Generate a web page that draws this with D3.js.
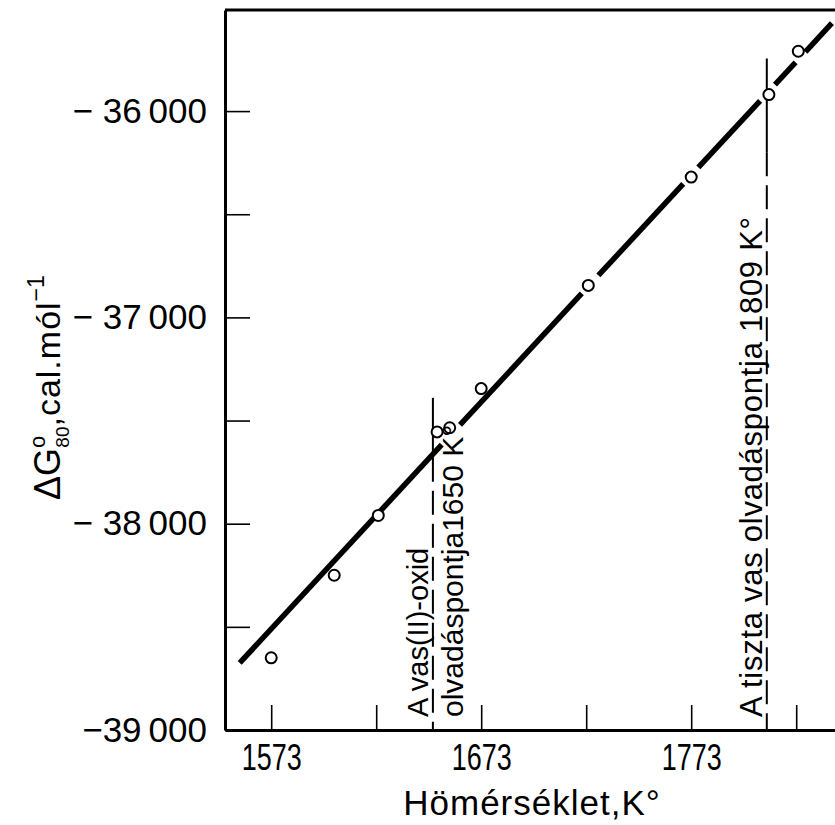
<!DOCTYPE html>
<html>
<head>
<meta charset="utf-8">
<script src="https://cdn.jsdelivr.net/npm/d3@7"></script>
<style>
  body { margin: 0; background: #fff; }
  svg { display: block; font-family: 'Liberation Sans', Arial, sans-serif; }
</style>
</head>
<body>
<div id="viz"></div>
<script>
// measured points, temperature (K) and free energy (cal/mol)
const temps = [1573, 1603, 1624, 1652, 1658, 1673, 1724, 1773, 1810, 1824]
const dG = [-38650, -38250, -37960, -37555, -37535, -37345, -36845, -36320, -35920, -35710]

// fitted straight line, ends and the breaks where it stops near a point
const fitT = [1558, 1840]
const fitG = [-38675, -35574]
const gapStart = [1654.2, 1720.9, 1769.2, 1805.8, 1822.7]
const gapEnd = [1662.9, 1728.8, 1776.4, 1812.9, 1827.4]

// ticks
const xTicks = [1573, 1623, 1673, 1723, 1773, 1823]
const xTickLabels = ['1573', '', '1673', '', '1773', '']
const yTicks = [-39000, -38500, -38000, -37500, -37000, -36500, -36000]
const yTickLabels = ['\u221239\u2009000', '', '\u2212 38\u2009000', '', '\u2212 37\u2009000', '', '\u2212 36\u2009000']

// melting points
const meltT = [1650, 1809]
const meltSolidTop = [-37390, -35745]
const meltSolidBottom = [-37680, -36200]

var margin = { top: 10, left: 225 },
  width = (1846 - 1551) * 2.1,
  height = 720

var svg = d3
  .select('#viz')
  .append('svg')
  .attr('width', 835)
  .attr('height', 825)
  .append('g')
  .attr('transform', 'translate(' + margin.left + ',' + margin.top + ')')

var x = d3.scaleLinear().domain([1551, 1846]).range([0, width])
var y = d3.scaleLinear().domain([-39000, -35510]).range([height, 0])

// axes, ticks point inwards
var xAxis = svg
  .append('g')
  .attr('transform', 'translate(0,' + height + ')')
  .call(
    d3.axisBottom(x)
      .tickValues(xTicks)
      .tickSizeInner(-25)
      .tickSizeOuter(0)
      .tickPadding(14)
      .tickFormat(function(d, i) { return xTickLabels[i] })
  )
xAxis.select('.domain').attr('stroke-width', 3)
xAxis.selectAll('.tick line').attr('stroke-width', 1.6)
xAxis
  .selectAll('text')
  .attr('font-size', 37)
  .attr('fill', '#000')
  .filter(function(d, i) { return xTickLabels[i] !== '' })
  .attr('textLength', 60)
  .attr('lengthAdjust', 'spacingAndGlyphs')

var yAxis = svg
  .append('g')
  .call(
    d3.axisLeft(y)
      .tickValues(yTicks)
      .tickSizeInner(-25)
      .tickSizeOuter(0)
      .tickPadding(18)
      .tickFormat(function(d, i) { return yTickLabels[i] })
  )
yAxis.select('.domain').attr('stroke-width', 3)
yAxis.selectAll('.tick line').attr('stroke-width', 1.6)
yAxis.selectAll('text').attr('font-size', 35).attr('fill', '#000')

// top border
svg
  .append('line')
  .attr('x1', 0)
  .attr('x2', width)
  .attr('y1', 0)
  .attr('y2', 0)
  .attr('stroke', '#000')
  .attr('stroke-width', 3)

// melting point lines: solid part near the line, dashed below
meltT.forEach(function(t, i) {
  svg
    .append('line')
    .attr('x1', x(t))
    .attr('x2', x(t))
    .attr('y1', y(meltSolidTop[i]))
    .attr('y2', y(meltSolidBottom[i]))
    .attr('stroke', '#000')
    .attr('stroke-width', 2)
  svg
    .append('line')
    .attr('x1', x(t))
    .attr('x2', x(t))
    .attr('y1', y(meltSolidBottom[i]))
    .attr('y2', height)
    .attr('stroke', '#000')
    .attr('stroke-width', 2)
    .attr('stroke-dasharray', '24,9')
})

// fitted line split into pieces
var fit = d3.scaleLinear().domain(fitT).range(fitG)
var pieces = []
var from = fitT[0]
gapStart.forEach(function(g, i) {
  pieces.push([from, g])
  from = gapEnd[i]
})
pieces.push([from, fitT[1]])

svg
  .selectAll('.fit')
  .data(pieces)
  .enter()
  .append('line')
  .attr('x1', function(d) { return x(d[0]) })
  .attr('y1', function(d) { return y(fit(d[0])) })
  .attr('x2', function(d) { return x(d[1]) })
  .attr('y2', function(d) { return y(fit(d[1])) })
  .attr('stroke', '#000')
  .attr('stroke-width', 5.5)
  .attr('stroke-linecap', 'butt')

// points
svg
  .selectAll('.pt')
  .data(temps)
  .enter()
  .append('circle')
  .attr('cx', function(d) { return x(d) })
  .attr('cy', function(d, i) { return y(dG[i]) })
  .attr('r', 5.5)
  .attr('fill', '#fff')
  .attr('stroke', '#000')
  .attr('stroke-width', 2)

// rotated notes next to the melting lines
function note(txt, t, dx, size, len) {
  var n = svg
    .append('text')
    .attr('transform', 'translate(' + (x(t) + dx) + ',' + (height - 13) + ')rotate(-90)')
    .attr('font-size', size)
    .text(txt)
  if (len) n.attr('textLength', len).attr('lengthAdjust', 'spacing')
}
note('A vas(II)-oxid', meltT[0], -5, 29)
note('olvadáspontja1650 K°', meltT[0], 30, 30)
note('A tiszta vas olvadáspontja 1809 K°', meltT[1], -5, 31, 500)

// axis titles
svg
  .append('text')
  .attr('x', 532 - margin.left)
  .attr('y', 815 - margin.top)
  .attr('text-anchor', 'middle')
  .attr('font-size', 35)
  .attr('letter-spacing', 1)
  .text('Hömérséklet,K°')

var yt = svg
  .append('text')
  .attr('transform', 'translate(' + (60 - margin.left) + ',' + (500 - margin.top) + ')rotate(-90)')
  .attr('font-size', 36)
yt.append('tspan').text('ΔG')
yt.append('tspan').attr('font-size', 22).attr('dy', -15).text('o')
yt.append('tspan').attr('font-size', 19).attr('dx', -12).attr('dy', 24).text('80')
yt.append('tspan').attr('font-size', 34).attr('dy', -9).attr('letter-spacing', 1).text(',cal.mól')
yt.append('tspan').attr('font-size', 23).attr('dy', -16).text('\u22121')
</script>
</body>
</html>
